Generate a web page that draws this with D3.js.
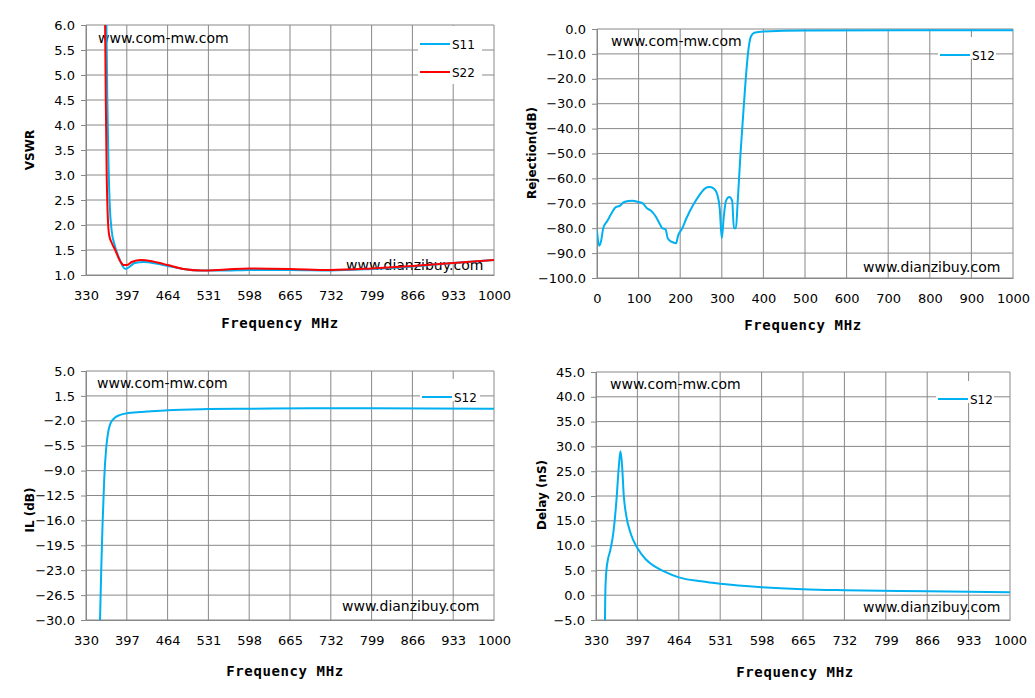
<!DOCTYPE html>
<html><head><meta charset="utf-8">
<script src="https://cdn.jsdelivr.net/npm/d3@7"></script>
<style>body{margin:0;background:#fff}svg{display:block}</style>
</head><body><svg id="c" width="1035" height="698"></svg>
<script>
const freqTicks = [330,397,464,531,598,665,732,799,866,933,1000];
const rejTicks = [0,100,200,300,400,500,600,700,800,900,1000];
const s11 = [[363,6.5],[365,4.5],[367,3.2],[369,2.4],[372,1.9],[377,1.6],[384,1.35],[390,1.18],[395,1.12],[400,1.15],[410,1.24],[425,1.26],[445,1.23],[464,1.18],[490,1.12],[520,1.09],[560,1.09],[598,1.1],[665,1.1],[732,1.09],[799,1.12],[866,1.17],[933,1.24],[1000,1.3]];
const s22 = [[361,6.5],[362.5,4.5],[364,3.0],[366,2.1],[368,1.8],[372,1.65],[378,1.5],[385,1.3],[392,1.2],[397,1.2],[405,1.26],[420,1.3],[440,1.27],[464,1.2],[490,1.12],[520,1.09],[560,1.11],[598,1.13],[665,1.12],[732,1.1],[799,1.13],[866,1.18],[933,1.24],[1000,1.3]];
const rej = [[0,-81],[5,-87],[10,-85],[15,-80],[25,-77],[35,-74],[45,-71.5],[55,-71],[65,-69.5],[85,-69],[100,-69.5],[110,-70],[120,-72],[130,-73],[140,-75],[150,-78],[157,-80],[165,-80.5],[170,-84],[180,-85.5],[190,-86],[195,-83],[205,-80],[215,-76],[230,-71],[245,-67],[260,-64],[270,-63.5],[280,-64],[290,-67],[295,-72],[300,-84],[305,-75],[310,-69],[318,-67.5],[325,-69],[329,-80],[334,-80],[338,-70],[345,-50],[352,-33],[360,-15],[365,-7],[370,-3],[378,-1.5],[400,-1],[500,-0.6],[1000,-0.5]];
const il = [[353,-30],[355,-23],[357,-17],[360,-10],[363,-6],[366,-3.8],[370,-2.4],[377,-1.6],[385,-1.2],[400,-0.9],[430,-0.7],[464,-0.5],[531,-0.35],[598,-0.3],[700,-0.25],[800,-0.25],[1000,-0.3]];
const delay = [[344.5,-5],[345,0],[346.5,4.5],[349,7],[353,9],[358,12.5],[363,19],[367,26],[369.5,29],[372,26.5],[375,20],[379,16],[386,12.5],[397,9.5],[410,7.3],[425,5.8],[440,4.8],[464,3.6],[500,2.8],[531,2.3],[598,1.6],[665,1.2],[732,1.0],[866,0.8],[1000,0.6]];

const svg = d3.select('#c');
const BLUE = '#00b0f0', RED = '#ff0000';

function chart(o){
  const g = svg.append('g');
  const x = d3.scaleLinear().domain(o.xd).range([o.x0,o.x1]);
  const y = d3.scaleLinear().domain(o.yd).range([o.y1,o.y0]);
  o.xt.forEach(t=>g.append('line').attr('x1',x(t)).attr('x2',x(t)).attr('y1',o.y0).attr('y2',o.y1).attr('stroke','#888').attr('stroke-width',1));
  o.yt.forEach(t=>g.append('line').attr('x1',o.x0).attr('x2',o.x1).attr('y1',y(t)).attr('y2',y(t)).attr('stroke','#888').attr('stroke-width',1));
  const xa = g.append('g').attr('transform',`translate(0,${o.y1})`).call(d3.axisBottom(x).tickValues(o.xt).tickFormat(d3.format('d')).tickSize(0).tickPadding(16));
  const ya = g.append('g').attr('transform',`translate(${o.x0},0)`).call(d3.axisLeft(y).tickValues(o.yt).tickFormat(d3.format('.1f')).tickSize(5).tickPadding(6));
  [xa,ya].forEach(a=>{a.select('.domain').attr('stroke','#888');a.selectAll('line').attr('stroke','#888');a.selectAll('text').attr('font-family','Verdana, DejaVu Sans').attr('font-size',13).attr('fill','#000');});
  g.append('text').attr('x',o.w1[0]).attr('y',o.w1[1]).text('www.com-mw.com').attr('font-family','DejaVu Sans').attr('font-size',14);
  g.append('text').attr('x',o.w2[0]).attr('y',o.w2[1]).text('www.dianzibuy.com').attr('font-family','DejaVu Sans').attr('font-size',14);
  g.append('rect').attr('x',o.lg[0]).attr('y',o.lg[1]).attr('width',o.lg[2]).attr('height',o.lg[3]).attr('fill','#fff');
  const line = d3.line().x(d=>x(d[0])).y(d=>y(d[1])).curve(d3.curveMonotoneX);
  g.append('clipPath').attr('id','cp'+o.id).append('rect').attr('x',o.x0).attr('y',o.y0).attr('width',o.x1-o.x0).attr('height',o.y1-o.y0);
  o.series.forEach((s,i)=>{
    g.append('path').datum(s.d).attr('d',line).attr('fill','none').attr('stroke',s.c).attr('stroke-width',2).attr('clip-path',`url(#cp${o.id})`);
    const ly = o.lg[1]+18+i*28;
    g.append('line').attr('x1',o.lg[0]+2).attr('x2',o.lg[0]+32).attr('y1',ly).attr('y2',ly).attr('stroke',s.c).attr('stroke-width',2);
    g.append('text').attr('x',o.lg[0]+34).attr('y',ly+5).text(s.n).attr('font-family','Verdana, DejaVu Sans').attr('font-size',12);
  });
  g.append('text').attr('transform',`translate(${o.yl[0]},${o.yl[1]}) rotate(-90)`).attr('text-anchor','middle').text(o.ylab).attr('font-family','Verdana, DejaVu Sans').attr('font-weight','bold').attr('font-size',12);
  g.append('text').attr('x',o.xl[0]).attr('y',o.xl[1]).attr('text-anchor','middle').text('Frequency MHz').attr('font-family','DejaVu Sans Mono, Liberation Mono').attr('font-weight','bold').attr('font-size',14).attr('letter-spacing',0.6);
}

chart({id:1,x0:86,x1:494,y0:25,y1:275,xd:[330,1000],yd:[1,6],xt:freqTicks,yt:d3.range(1,6.01,0.5),
  series:[{n:'S11',d:s11,c:BLUE},{n:'S22',d:s22,c:RED}],lg:[418,26,64,58],w1:[98,43],w2:[346,270],ylab:'VSWR',yl:[34,150],xl:[280,328]});
chart({id:2,x0:597,x1:1013,y0:29,y1:278,xd:[0,1000],yd:[-100,0],xt:rejTicks,yt:d3.range(-100,0.1,10),
  series:[{n:'S12',d:rej,c:BLUE}],lg:[938,37,58,22],w1:[611,46],w2:[863,272],ylab:'Rejection(dB)',yl:[536,153],xl:[803,330]});
chart({id:3,x0:86,x1:494,y0:371,y1:620,xd:[330,1000],yd:[-30,5],xt:freqTicks,yt:[5,1.5,-2,-5.5,-9,-12.5,-16,-19.5,-23,-26.5,-30],
  series:[{n:'S12',d:il,c:BLUE}],lg:[420,379,60,22],w1:[97,388],w2:[342,611],ylab:'IL (dB)',yl:[34,510],xl:[285,676]});
chart({id:4,x0:596,x1:1010,y0:372,y1:620,xd:[330,1000],yd:[-5,45],xt:freqTicks,yt:d3.range(-5,45.1,5),
  series:[{n:'S12',d:delay,c:BLUE}],lg:[936,381,58,22],w1:[610,389],w2:[863,612],ylab:'Delay (nS)',yl:[546,495],xl:[795,677]});
</script></body></html>
